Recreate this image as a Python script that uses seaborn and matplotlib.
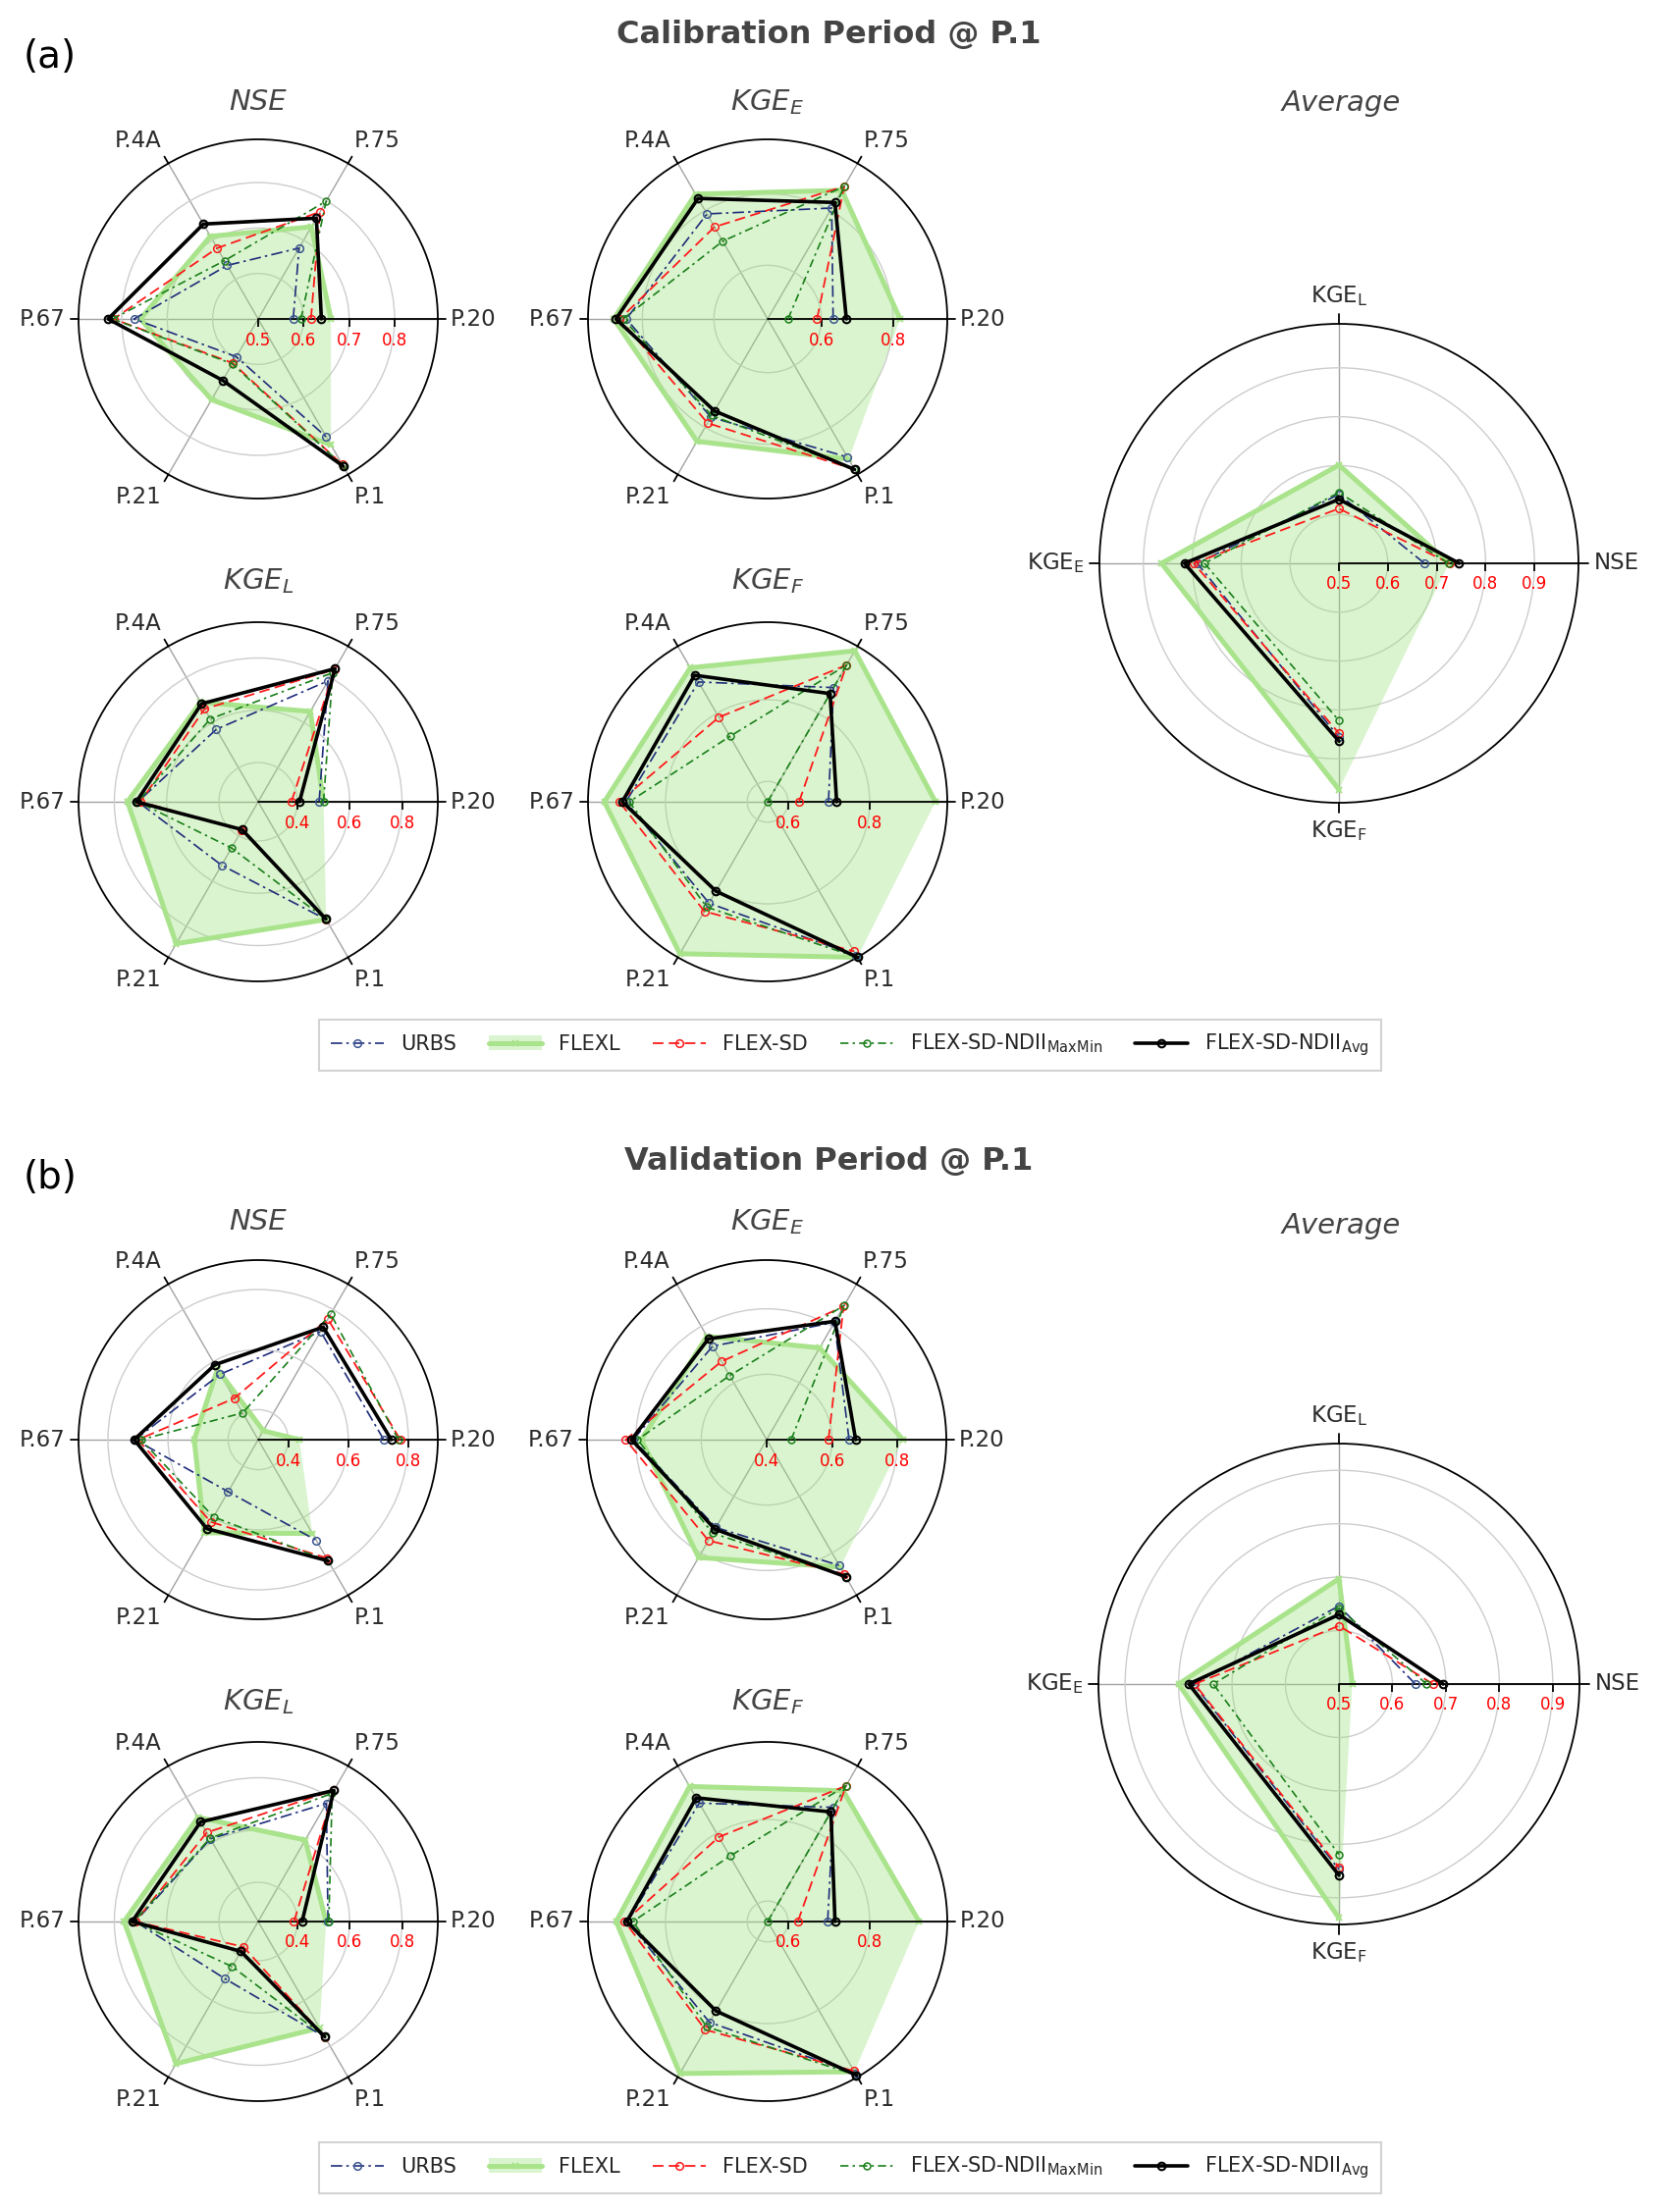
import numpy as np
import matplotlib
matplotlib.use("Agg")
import matplotlib.pyplot as plt
import seaborn as sns
from matplotlib.lines import Line2D
from matplotlib.patches import Patch

sns.set_theme(style="white")
plt.rcParams["font.family"] = ["DejaVu Sans"]
plt.rcParams["mathtext.fontset"] = "dejavusans"

# ---------------- data ----------------
stations = ["P.20", "P.75", "P.4A", "P.67", "P.21", "P.1"]
avg_metrics = ["NSE", "KGE$_\\mathrm{L}$", "KGE$_\\mathrm{E}$", "KGE$_\\mathrm{F}$"]
models = ["URBS", "FLEXL", "FLEX-SD",
          "FLEX-SD-NDII$_{\\mathrm{MaxMin}}$", "FLEX-SD-NDII$_{\\mathrm{Avg}}$"]

# rows: URBS, FLEXL, FLEX-SD, FLEX-SD-NDII_MaxMin, FLEX-SD-NDII_Avg ; columns: stations
cal_nse = [[0.577, 0.680, 0.636, 0.773, 0.596, 0.800],
           [0.660, 0.734, 0.710, 0.759, 0.705, 0.820],
           [0.616, 0.772, 0.680, 0.818, 0.612, 0.870],
           [0.594, 0.799, 0.648, 0.820, 0.614, 0.872],
           [0.639, 0.756, 0.741, 0.830, 0.656, 0.874]]
cal_kgee = [[0.633, 0.808, 0.789, 0.845, 0.767, 0.896],
            [0.820, 0.865, 0.853, 0.880, 0.845, 0.903],
            [0.588, 0.878, 0.747, 0.863, 0.786, 0.936],
            [0.507, 0.878, 0.701, 0.854, 0.762, 0.934],
            [0.670, 0.826, 0.839, 0.874, 0.747, 0.936]]
cal_kgel = [[0.483, 0.784, 0.570, 0.710, 0.530, 0.770],
            [0.500, 0.649, 0.690, 0.750, 0.877, 0.770],
            [0.377, 0.835, 0.660, 0.700, 0.375, 0.770],
            [0.500, 0.820, 0.616, 0.710, 0.454, 0.770],
            [0.408, 0.838, 0.683, 0.716, 0.373, 0.768]]
cal_kgef = [[0.699, 0.873, 0.889, 0.897, 0.837, 0.985],
            [0.961, 0.977, 0.929, 0.950, 0.980, 0.990],
            [0.627, 0.937, 0.789, 0.913, 0.860, 0.973],
            [0.550, 0.937, 0.735, 0.889, 0.848, 0.990],
            [0.719, 0.856, 0.908, 0.906, 0.803, 0.990]]
cal_avg = [[0.675, 0.641, 0.790, 0.856],
           [0.725, 0.701, 0.863, 0.963],
           [0.726, 0.612, 0.797, 0.848],
           [0.724, 0.645, 0.775, 0.822],
           [0.746, 0.631, 0.816, 0.864]]

val_nse = [[0.718, 0.716, 0.552, 0.710, 0.500, 0.687],
           [0.437, 0.334, 0.571, 0.513, 0.658, 0.661],
           [0.773, 0.764, 0.459, 0.700, 0.616, 0.755],
           [0.767, 0.783, 0.403, 0.690, 0.597, 0.766],
           [0.743, 0.733, 0.588, 0.713, 0.642, 0.766]]
val_kgee = [[0.652, 0.814, 0.730, 0.808, 0.710, 0.844],
            [0.817, 0.724, 0.765, 0.783, 0.816, 0.850],
            [0.589, 0.870, 0.676, 0.831, 0.756, 0.874],
            [0.475, 0.874, 0.626, 0.795, 0.730, 0.884],
            [0.672, 0.818, 0.756, 0.813, 0.716, 0.884]]
val_kgel = [[0.517, 0.772, 0.615, 0.720, 0.503, 0.760],
            [0.510, 0.610, 0.710, 0.763, 0.878, 0.720],
            [0.387, 0.830, 0.643, 0.720, 0.362, 0.760],
            [0.520, 0.816, 0.618, 0.725, 0.449, 0.760],
            [0.418, 0.829, 0.690, 0.732, 0.382, 0.759]]
val_kgef = [[0.697, 0.873, 0.885, 0.893, 0.835, 0.980],
            [0.921, 0.920, 0.932, 0.921, 0.980, 0.975],
            [0.624, 0.934, 0.789, 0.900, 0.856, 0.973],
            [0.550, 0.934, 0.735, 0.880, 0.848, 0.985],
            [0.715, 0.860, 0.900, 0.895, 0.803, 0.985]]
val_avg = [[0.643, 0.646, 0.772, 0.847],
           [0.525, 0.697, 0.800, 0.938],
           [0.676, 0.609, 0.770, 0.843],
           [0.664, 0.642, 0.735, 0.819],
           [0.695, 0.630, 0.781, 0.858]]

# radial ranges / ticks per panel
rng_nse_cal, ticks_nse_cal = (0.5, 0.895), [0.5, 0.6, 0.7, 0.8]
rng_kgee_cal, ticks_kgee_cal = (0.45, 0.952), [0.6, 0.8]
rng_kgel, ticks_kgel = (0.25, 0.937), [0.4, 0.6, 0.8]
rng_kgef, ticks_kgef = (0.55, 0.99), [0.6, 0.8]
rng_avg_cal, ticks_avg = (0.5, 0.99), [0.5, 0.6, 0.7, 0.8, 0.9]
rng_nse_val, ticks_nse_val = (0.3, 0.898), [0.4, 0.6, 0.8]
rng_kgee_val, ticks_kgee_val = (0.4, 0.949), [0.4, 0.6, 0.8]
rng_avg_val = (0.5, 0.95)

# ---------------- styles ----------------
STY = [
    dict(color="#1f2d7a", ls=(0, (7, 2.5, 1.5, 2.5)), lw=1.2, marker="o", ms=5.5,
         mfc="none", mec="#3b5590", mew=1.1, z=4),
    dict(color="#a9e38b", ls="-", lw=3.6, marker="x", ms=4.5, mfc="#a9e38b",
         mec="#a9e38b", mew=1.5, z=2),
    dict(color="#ff1a1a", ls=(0, (6, 3)), lw=1.3, marker="o", ms=5.5,
         mfc="none", mec="#ff1a1a", mew=1.1, z=5),
    dict(color="#1a7f1a", ls=(0, (5, 2.5, 1.5, 2.5)), lw=1.2, marker="o", ms=5,
         mfc="none", mec="#1a7f1a", mew=1.1, z=6),
    dict(color="black", ls="-", lw=2.6, marker="o", ms=5.5, mfc="none",
         mec="black", mew=1.5, z=7),
]
FILL = "#9be27a"

W, H = 1688, 2254
fig = plt.figure(figsize=(W / 100, H / 100), dpi=100, facecolor="white")


def add_polar(cx, cy, R):
    return fig.add_axes([(cx - R) / W, 1 - (cy + R) / H, 2 * R / W, 2 * R / H],
                        projection="polar")


def radar(ax, cats, data, rng, ticks, R, tick_px=8, gap_pt=9.5):
    n = len(cats)
    ang = np.deg2rad(np.arange(n) * 360.0 / n)
    theta = np.append(ang, 2 * np.pi)
    rmin, rmax = rng
    ax.set_facecolor("white")
    ax.set_ylim(rmin, rmax)
    ax.set_xticks(ang)
    ax.set_xticklabels([])
    ax.set_yticks(ticks)
    ax.set_yticklabels([])
    ax.grid(True)
    ax.yaxis.grid(True, color="#cdcdcd", lw=1.0)
    ax.xaxis.grid(True, color="#a3a3a3", lw=1.0)
    ax.tick_params(length=0)
    ax.spines["polar"].set_color("black")
    ax.spines["polar"].set_linewidth(1.3)

    # FLEXL fill (closed shape); the lines themselves stay open
    v1 = np.append(data[1], data[1][0])
    ax.fill(theta, v1, color=FILL, alpha=0.36, lw=0, zorder=1)
    for i in [1, 0, 2, 3, 4]:
        s = STY[i]
        sns.lineplot(x=ang, y=np.asarray(data[i]), ax=ax, sort=False, estimator=None,
                     color=s["color"], linestyle=s["ls"], lw=s["lw"],
                     marker=s["marker"], markersize=s["ms"], markerfacecolor=s["mfc"],
                     markeredgecolor=s["mec"], markeredgewidth=s["mew"],
                     zorder=s["z"], clip_on=False)
    ax.set_xlabel("")
    ax.set_ylabel("")

    # radial axis line with ticks and red labels
    ax.plot([0, 0], [rmin, rmax], color="black", lw=1.3, zorder=3)
    ax.plot(np.zeros(len(ticks)), ticks, ls="none", marker=3, ms=6, mew=1.3,
            color="black", zorder=3, clip_on=False)
    for t in ticks:
        ax.annotate(f"{t:.1f}", xy=(0, t), xytext=(0, -9), textcoords="offset points",
                    ha="center", va="top", color="red", fontsize=12,
                    annotation_clip=False)
    # angular ticks outside and labels
    ext = (rmax - rmin) * tick_px / R
    for a, c in zip(ang, cats):
        ax.plot([a, a], [rmax, rmax + ext], color="black", lw=1.3, clip_on=False)
        ca, sa = np.cos(a), np.sin(a)
        ha = "left" if ca > 0.1 else ("right" if ca < -0.1 else "center")
        va = "bottom" if sa > 0.1 else ("top" if sa < -0.1 else "center")
        ax.annotate(c, xy=(a, rmax), xytext=(gap_pt * ca, gap_pt * sa),
                    textcoords="offset points", ha=ha, va=va, fontsize=16.5,
                    color="#2b2b2b", annotation_clip=False)


TC = "#444444"
R_s = 183

def subtitle(x, y, s):
    fig.text(x / W, 1 - y / H, s, ha="center", va="center", fontsize=21,
             style="italic", color=TC)

# ---------------- calibration ----------------
radar(add_polar(263, 325, R_s), stations, cal_nse, rng_nse_cal, ticks_nse_cal, R_s)
radar(add_polar(782, 325, R_s), stations, cal_kgee, rng_kgee_cal, ticks_kgee_cal, R_s)
radar(add_polar(263, 817, R_s), stations, cal_kgel, rng_kgel, ticks_kgel, R_s)
radar(add_polar(782, 817, R_s), stations, cal_kgef, rng_kgef, ticks_kgef, R_s)
radar(add_polar(1364, 574, 244), avg_metrics, cal_avg, rng_avg_cal, ticks_avg, 244,
      tick_px=10, gap_pt=11.5)

# ---------------- validation ----------------
radar(add_polar(263, 1467, R_s), stations, val_nse, rng_nse_val, ticks_nse_val, R_s)
radar(add_polar(781, 1467, R_s), stations, val_kgee, rng_kgee_val, ticks_kgee_val, R_s)
radar(add_polar(263, 1958, R_s), stations, val_kgel, rng_kgel, ticks_kgel, R_s)
radar(add_polar(782, 1958, R_s), stations, val_kgef, rng_kgef, ticks_kgef, R_s)
radar(add_polar(1364, 1716, 245), avg_metrics, val_avg, rng_avg_val, ticks_avg, 245,
      tick_px=10, gap_pt=11.5)

# titles
for ty, head, tagy, tag in [(36, "Calibration Period @ P.1", 58, "(a)"),
                            (1183, "Validation Period @ P.1", 1200, "(b)")]:
    fig.text(844 / W, 1 - ty / H, head, ha="center", va="center",
             fontsize=23, fontweight="bold", color=TC)
    fig.text(24 / W, 1 - tagy / H, tag, ha="left", va="center", fontsize=28,
             color="black")

subtitle(263, 104, "NSE")
subtitle(782, 104, "KGE$_E$")
subtitle(1366, 105, "Average")
subtitle(263, 592, "KGE$_L$")
subtitle(782, 592, "KGE$_F$")
subtitle(263, 1245, "NSE")
subtitle(782, 1245, "KGE$_E$")
subtitle(1366, 1249, "Average")
subtitle(263, 1734, "KGE$_L$")
subtitle(782, 1734, "KGE$_F$")

# legends
def make_handles():
    hs = []
    for i, s in enumerate(STY):
        ln = Line2D([], [], color=s["color"], ls=s["ls"], lw=s["lw"], marker=s["marker"],
                    ms=s["ms"], mfc=s["mfc"], mec=s["mec"], mew=s["mew"])
        if i == 1:
            hs.append((Patch(facecolor=FILL, alpha=0.36, lw=0), ln))
        else:
            hs.append(ln)
    return hs

for yc in [1065, 2209]:
    leg = fig.legend(make_handles(), models, loc="center",
                     bbox_to_anchor=(866 / W, 1 - yc / H), ncol=5, fontsize=15,
                     frameon=True, fancybox=False, edgecolor="#c8c8c8",
                     handlelength=2.6, columnspacing=1.6, handletextpad=0.8,
                     borderpad=0.6)
    leg.get_frame().set_linewidth(1.5)

fig.savefig("out.png", dpi=100, facecolor="white")
